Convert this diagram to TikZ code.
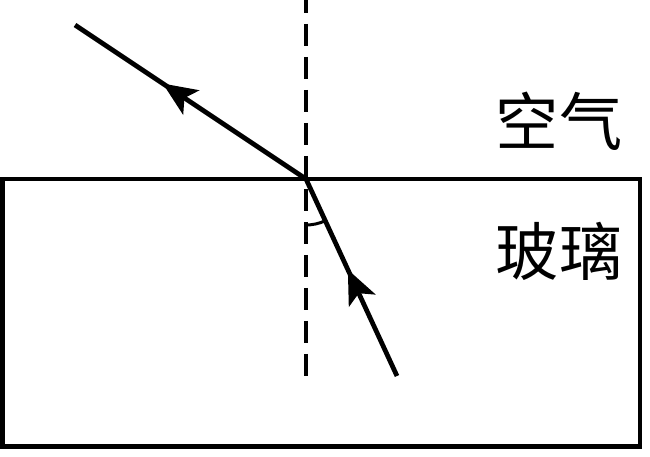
\documentclass[tikz,border=0pt]{standalone}
\usepackage{fontspec}
\newfontfamily\cjk{Noto Sans CJK SC}
\usetikzlibrary{arrows.meta,decorations.markings}

\begin{document}
\begin{tikzpicture}[%
        x=0.02cm, y=-0.02cm,
        thickline/.style={%
            line width=2.7pt,
        },
        normalline/.style={%
            line width=2.4pt, dash pattern=on 0.44cm off 0.22cm, dash phase=0.18cm,
        },
        midarrow/.style={%
            postaction={decorate},
            decoration={markings,
                mark=at position #1 with {\arrow{Stealth[length=0.68cm,width=0.58cm,inset=0.16cm]}}},
        },
        medium/.style={%
            node font=\cjk\fontsize{36pt}{36pt}\selectfont,
        },
    ]

    \useasboundingbox (0,0) rectangle (650,457);

    % glass block
    \draw [thickline] (2.5,179) rectangle (640,446.5);

    % normal
    \coordinate (O) at (306,179);
    \coordinate (normal_top) at (306,0);
    \coordinate (normal_bottom) at (306,378);
    \draw [normalline] (normal_top) -- (normal_bottom);

    % rays
    \coordinate (glass_end) at (397,376);
    \coordinate (air_end) at (75,25);
    \draw [thickline, midarrow=0.54] (glass_end) -- (O);
    \draw [thickline, midarrow=0.62] (O) -- (air_end);

    % angle
    \draw [line width=1.7pt] ([shift={(-90:0.92cm)}]O) arc[start angle=-90, end angle=-66, radius=0.92cm];

    \node (air_label) at (559,121) [medium] {空气};
    \node (glass_label) at (559,251) [medium] {玻璃};
\end{tikzpicture}
\end{document}
